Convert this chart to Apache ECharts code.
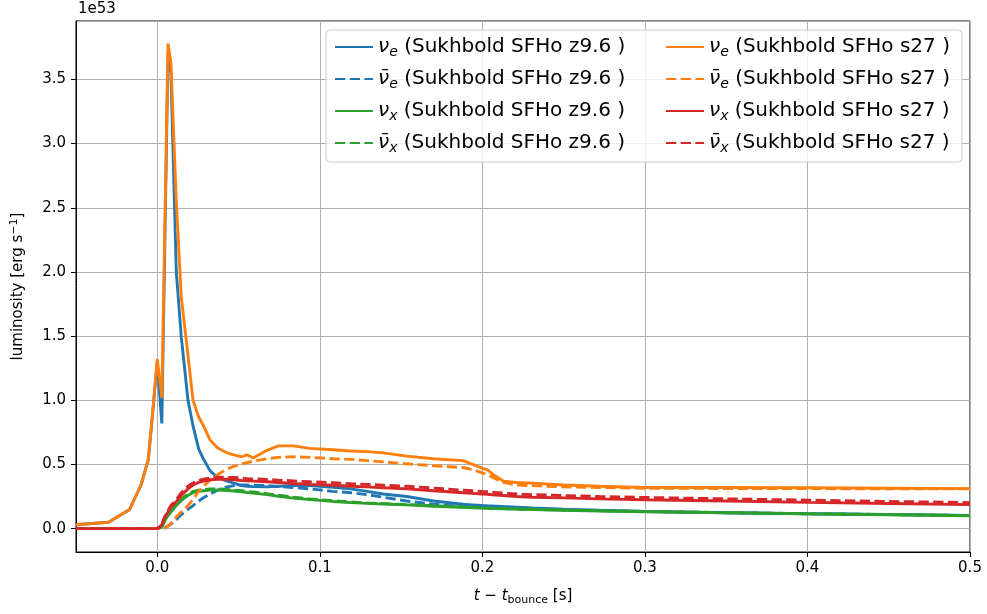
<!DOCTYPE html>
<html>
<head>
<meta charset="utf-8">
<script src="https://cdn.jsdelivr.net/npm/echarts@6/dist/echarts.min.js"></script>
<style>
html,body{margin:0;padding:0;background:#fff;}
#c{width:987px;height:614px;}
</style>
</head>
<body>
<div id="c"></div>
<script>
// time after bounce [s]
const t = [-0.05, -0.03, -0.017, -0.01, -0.0055, -0.0025, 0.0, 0.0028, 0.0045, 0.0066,
  0.0084, 0.0117, 0.0148, 0.0189, 0.022, 0.0255, 0.0285, 0.0325, 0.037, 0.043,
  0.047, 0.052, 0.0552, 0.059, 0.0675, 0.0745, 0.0837, 0.094, 0.108, 0.119,
  0.129, 0.139, 0.1535, 0.17, 0.188, 0.194, 0.2, 0.203, 0.208, 0.213,
  0.221, 0.231, 0.25, 0.272, 0.3, 0.35, 0.4, 0.45, 0.5];

// luminosity [1e53 erg/s]
const nuE_z96 = [0.03, 0.05, 0.15, 0.34, 0.54, 0.95, 1.30, 0.82, 2.1, 3.70,
  3.55, 2.0, 1.49, 1.0, 0.80, 0.62, 0.54, 0.45, 0.40, 0.37,
  0.355, 0.335, 0.33, 0.327, 0.325, 0.33, 0.335, 0.335, 0.322, 0.31,
  0.29, 0.27, 0.25, 0.215, 0.19, 0.185, 0.18, 0.178, 0.175, 0.172,
  0.168, 0.162, 0.152, 0.143, 0.133, 0.124, 0.116, 0.11, 0.103];
const nuEbar_z96 = [0, 0, 0, 0, 0, 0, 0, 0, 0.005, 0.02,
  0.035, 0.07, 0.11, 0.15, 0.18, 0.215, 0.24, 0.27, 0.30, 0.325,
  0.335, 0.34, 0.34, 0.338, 0.335, 0.328, 0.32, 0.31, 0.29, 0.28,
  0.265, 0.245, 0.215, 0.19, 0.17, 0.167, 0.163, 0.16, 0.158, 0.156,
  0.153, 0.15, 0.145, 0.14, 0.134, 0.124, 0.116, 0.109, 0.102];
const nuX_z96 = [0, 0, 0, 0, 0, 0, 0, 0.01, 0.06, 0.10,
  0.13, 0.18, 0.22, 0.26, 0.28, 0.29, 0.295, 0.30, 0.30, 0.297,
  0.293, 0.287, 0.282, 0.277, 0.265, 0.252, 0.238, 0.226, 0.212, 0.203,
  0.197, 0.192, 0.185, 0.175, 0.166, 0.163, 0.16, 0.158, 0.156, 0.155,
  0.152, 0.149, 0.143, 0.138, 0.132, 0.123, 0.115, 0.108, 0.100];
const nuXbar_z96 = [0, 0, 0, 0, 0, 0, 0, 0.01, 0.065, 0.11,
  0.14, 0.19, 0.23, 0.27, 0.29, 0.30, 0.305, 0.31, 0.31, 0.305,
  0.30, 0.295, 0.29, 0.285, 0.272, 0.26, 0.245, 0.232, 0.217, 0.208,
  0.20, 0.195, 0.188, 0.178, 0.169, 0.166, 0.162, 0.16, 0.158, 0.157,
  0.154, 0.151, 0.145, 0.14, 0.134, 0.125, 0.117, 0.11, 0.102];
const nuE_s27 = [0.03, 0.05, 0.15, 0.34, 0.54, 0.95, 1.32, 1.02, 2.25, 3.78,
  3.63, 2.55, 1.80, 1.35, 1.0, 0.87, 0.80, 0.69, 0.63, 0.59,
  0.575, 0.56, 0.575, 0.55, 0.61, 0.645, 0.645, 0.625, 0.615, 0.605,
  0.60, 0.59, 0.565, 0.545, 0.53, 0.50, 0.47, 0.46, 0.41, 0.37,
  0.36, 0.355, 0.34, 0.33, 0.32, 0.32, 0.318, 0.315, 0.312];
const nuEbar_s27 = [0, 0, 0, 0, 0, 0, 0, 0, 0.005, 0.02,
  0.04, 0.09, 0.13, 0.18, 0.23, 0.29, 0.33, 0.38, 0.42, 0.465,
  0.485, 0.505, 0.515, 0.525, 0.545, 0.555, 0.56, 0.555, 0.545, 0.54,
  0.53, 0.52, 0.505, 0.49, 0.476, 0.46, 0.435, 0.42, 0.39, 0.36,
  0.34, 0.335, 0.325, 0.32, 0.315, 0.313, 0.312, 0.31, 0.31];
const nuX_s27 = [0, 0, 0, 0, 0, 0, 0, 0.03, 0.09, 0.13,
  0.17, 0.21, 0.26, 0.31, 0.34, 0.36, 0.37, 0.38, 0.385, 0.385,
  0.38, 0.375, 0.372, 0.37, 0.365, 0.36, 0.352, 0.345, 0.338, 0.33,
  0.325, 0.318, 0.31, 0.295, 0.28, 0.275, 0.27, 0.268, 0.262, 0.258,
  0.25, 0.245, 0.24, 0.232, 0.225, 0.215, 0.205, 0.196, 0.187];
const nuXbar_s27 = [0, 0, 0, 0, 0, 0, 0, 0.03, 0.09, 0.14,
  0.18, 0.225, 0.28, 0.33, 0.355, 0.375, 0.385, 0.395, 0.40, 0.40,
  0.398, 0.395, 0.39, 0.388, 0.383, 0.378, 0.372, 0.365, 0.358, 0.35,
  0.345, 0.338, 0.33, 0.316, 0.30, 0.295, 0.29, 0.288, 0.282, 0.277,
  0.27, 0.265, 0.258, 0.25, 0.243, 0.232, 0.222, 0.212, 0.203];

const seriesNames = [
  'ν_e (Sukhbold SFHo z9.6 )', 'ν̄_e (Sukhbold SFHo z9.6 )', 'ν_x (Sukhbold SFHo z9.6 )', 'ν̄_x (Sukhbold SFHo z9.6 )',
  'ν_e (Sukhbold SFHo s27 )', 'ν̄_e (Sukhbold SFHo s27 )', 'ν_x (Sukhbold SFHo s27 )', 'ν̄_x (Sukhbold SFHo s27 )'
];
const seriesValues = [nuE_z96, nuEbar_z96, nuX_z96, nuXbar_z96, nuE_s27, nuEbar_s27, nuX_s27, nuXbar_s27];
const seriesColors = ['#1f77b4', '#1f77b4', '#2ca02c', '#2ca02c', '#ff7f0e', '#ff7f0e', '#d62728', '#d62728'];
const seriesDashed = [false, true, false, true, false, true, false, true];

const FONT = 'DejaVu Sans';
const dash = [10.3, 4.4];

const series = seriesNames.map((name, k) => ({
  name: name,
  type: 'line',
  showSymbol: false,
  symbol: 'none',
  animation: false,
  data: t.map((x, i) => [x, seriesValues[k][i]]),
  lineStyle: { color: seriesColors[k], width: 2.9, type: seriesDashed[k] ? dash : 'solid', cap: 'butt' },
  itemStyle: { color: seriesColors[k] },
  z: 2
}));

function legendFormatter(name) {
  const m = name.match(/^(ν̄|ν)_(\w)(.*)$/);
  return '{nu|' + m[1] + '}{sub|' + m[2] + '}{tx|' + m[3] + '}';
}
const legendRich = {
  nu: { fontFamily: FONT, fontStyle: 'italic', fontSize: 20, lineHeight: 24, color: '#000' },
  sub: { fontFamily: FONT, fontStyle: 'italic', fontSize: 14, lineHeight: 13, verticalAlign: 'bottom', color: '#000' },
  tx: { fontFamily: FONT, fontSize: 20, lineHeight: 24, color: '#000' }
};
function makeLegend(names, left) {
  return {
    data: names,
    orient: 'vertical',
    left: left,
    top: 37,
    padding: 0,
    itemWidth: 38,
    itemHeight: 14,
    itemGap: 10,
    selectedMode: false,
    formatter: legendFormatter,
    itemStyle: { opacity: 0 },
    textStyle: { fontFamily: FONT, fontSize: 20, color: '#000', rich: legendRich },
    z: 10
  };
}

const chart = echarts.init(document.getElementById('c'), null, { renderer: 'canvas' });
chart.setOption({
  backgroundColor: '#fff',
  animation: false,
  grid: { left: 76, right: 17, top: 21, bottom: 62, outerBoundsMode: 'none', containLabel: false, show: true, borderColor: '#000', borderWidth: 1, backgroundColor: 'transparent' },
  xAxis: {
    type: 'value', min: -0.05, max: 0.5, splitNumber: 5,
    axisLine: { show: true, onZero: false, lineStyle: { color: '#000', width: 1 } },
    axisTick: { show: true, length: 5, lineStyle: { color: '#000', width: 1 } },
    axisLabel: { showMinLabel: false, margin: 9, color: '#000', fontFamily: FONT, fontSize: 15, formatter: v => v.toFixed(1) },
    splitLine: { show: true, lineStyle: { color: '#b0b0b0', width: 1 } },
    name: '{it|t} − {it|t}{sub|bounce} [s]',
    nameLocation: 'middle',
    nameGap: 35,
    nameTextStyle: {
      fontFamily: FONT, fontSize: 15, color: '#000',
      rich: {
        it: { fontFamily: FONT, fontStyle: 'italic', fontSize: 15, lineHeight: 19 },
        sub: { fontFamily: FONT, fontSize: 11, lineHeight: 10, verticalAlign: 'bottom' }
      }
    }
  },
  yAxis: {
    type: 'value', min: -0.182, max: 3.955, splitNumber: 8,
    axisLine: { show: true, onZero: false, lineStyle: { color: '#000', width: 1 } },
    axisTick: { show: true, length: 5, lineStyle: { color: '#000', width: 1 } },
    axisLabel: { showMinLabel: false, showMaxLabel: false, margin: 10, color: '#000', fontFamily: FONT, fontSize: 15, formatter: v => v.toFixed(1) },
    splitLine: { show: true, lineStyle: { color: '#b0b0b0', width: 1 } },
    name: '{n|luminosity [erg s}{sup|−1}{n|]}',
    nameLocation: 'middle',
    nameRotate: 90,
    nameGap: 48,
    nameTextStyle: {
      fontFamily: FONT, fontSize: 15, color: '#000',
      rich: {
        n: { fontFamily: FONT, fontSize: 15, lineHeight: 19 },
        sup: { fontFamily: FONT, fontSize: 11, lineHeight: 10, verticalAlign: 'top' }
      }
    }
  },
  legend: [makeLegend(seriesNames.slice(0, 4), 334), makeLegend(seriesNames.slice(4, 8), 665)],
  graphic: [
    { type: 'text', left: 78, top: 2, style: { text: '1e53', fontFamily: FONT, fontSize: 15, fill: '#000' } },
    { type: 'rect', shape: { x: 326, y: 30, width: 636, height: 132, r: 4 }, style: { fill: 'rgba(255,255,255,0.8)', stroke: '#cccccc', lineWidth: 1 }, z: 5 }
  ],
  series: series
});
</script>
</body>
</html>
